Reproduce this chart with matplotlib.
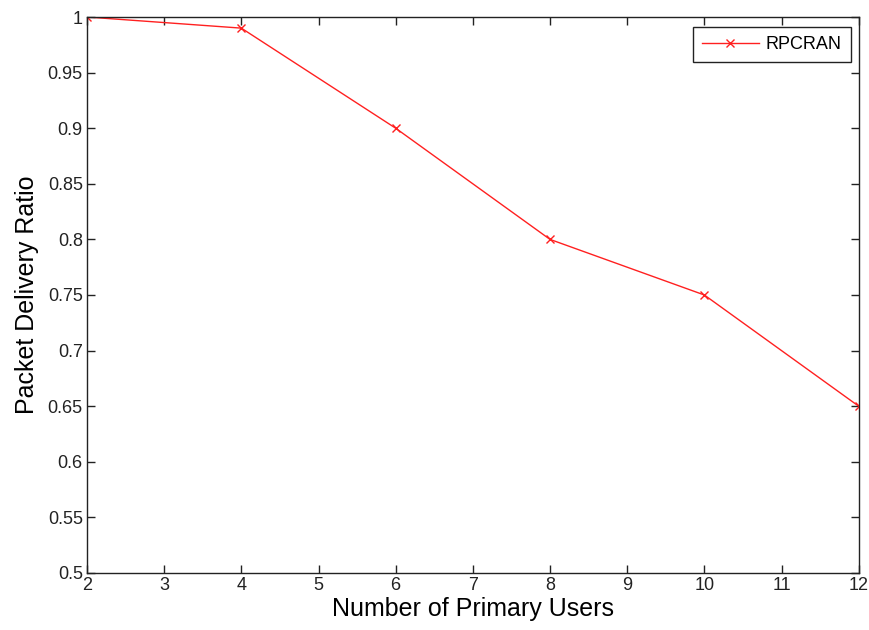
import matplotlib.pyplot as plt

# packet delivery ratio vs. number of primary users
primary_users = [2, 4, 6, 8, 10, 12]
pdr_rpcran = [1.0, 0.99, 0.9, 0.8, 0.75, 0.65]

plt.rcParams['font.family'] = 'Liberation Sans'

fig = plt.figure(figsize=(8.7, 6.3), dpi=100)
ax = fig.add_axes([0.1, 0.0905, 0.887, 0.8825])

ax.plot(primary_users, pdr_rpcran, color='#ff2020', linewidth=1.0,
        marker='x', markersize=6, markeredgewidth=1.0, label='RPCRAN')

ax.set_xlim(2, 12)
ax.set_ylim(0.5, 1.0)
ax.set_xticks(range(2, 13))
ax.set_yticks([0.5, 0.55, 0.6, 0.65, 0.7, 0.75, 0.8, 0.85, 0.9, 0.95, 1.0])
ax.set_yticklabels(['0.5', '0.55', '0.6', '0.65', '0.7', '0.75', '0.8',
                    '0.85', '0.9', '0.95', '1'])
ax.tick_params(direction='in', top=True, right=True, labelsize=13,
               length=6, width=1.0, colors='#222222', pad=3)
for side in ax.spines.values():
    side.set_linewidth(1.0)
    side.set_color('#222222')

ax.set_xlabel('Number of Primary Users', fontsize=18, labelpad=2)
ax.set_ylabel('Packet Delivery Ratio', fontsize=18, labelpad=6)

leg = ax.legend(loc='upper right', fontsize=13, fancybox=False,
                edgecolor='#222222', framealpha=1, borderpad=0.5,
                handlelength=3.2, handletextpad=0.35, borderaxespad=0,
                bbox_to_anchor=(0.9896, 0.982))
leg.get_frame().set_linewidth(1.0)

fig.savefig('out.png', dpi=100)
